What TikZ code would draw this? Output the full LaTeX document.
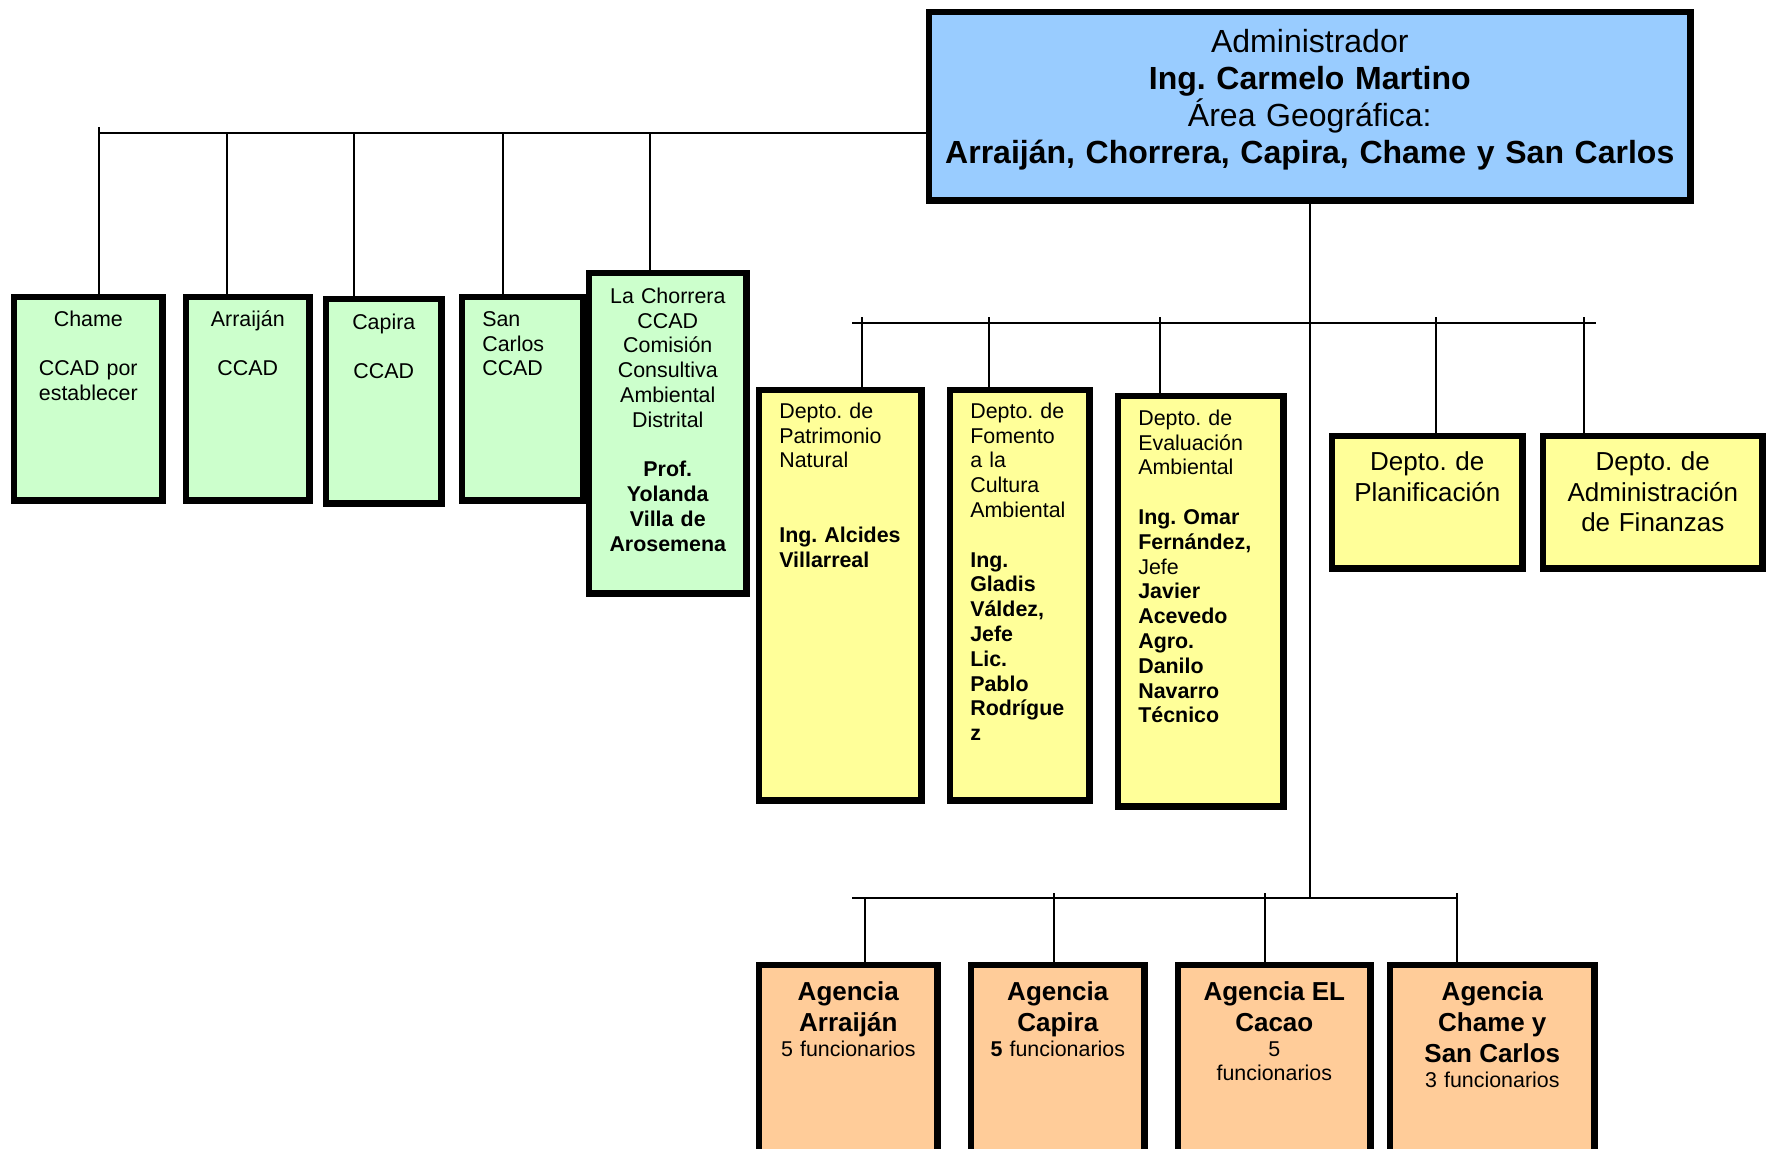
\documentclass[tikz,border=0pt]{standalone}
\usepackage{fontspec}
\setmainfont{Liberation Sans}
\frenchspacing

\definecolor{adminblue}{RGB}{153,204,255}
\definecolor{ccadgreen}{RGB}{204,255,204}
\definecolor{deptyellow}{RGB}{255,255,153}
\definecolor{agencyorange}{RGB}{255,204,153}

\tikzset{
    box/.style={draw, line width=3.1pt, anchor=north west, inner ysep=0pt, inner xsep=2pt, align=center, font=\fontsize{10.7}{12.4}\selectfont},
    adminbox/.style={box, fill=adminblue, font=\fontsize{16}{18.5}\selectfont},
    ccadbox/.style={box, fill=ccadgreen},
    deptbox/.style={box, fill=deptyellow, align=left, inner xsep=10.1pt},
    unitbox/.style={box, fill=deptyellow, font=\fontsize{13}{15.2}\selectfont},
    agencybox/.style={box, fill=agencyorange},
    wire/.style={line width=0.7pt},
}

\begin{document}
\begin{tikzpicture}[x=0.5pt,y=-0.5pt]
    \clip (0,0) rectangle (1767,1148);

    \coordinate (topbus) at (99,133);
    \coordinate (topbusend) at (99,127);
    \coordinate (midW) at (852,323);
    \coordinate (midE) at (1596,323);
    \coordinate (botW) at (852,898);
    \coordinate (botE) at (1457,898);

    % administrador
    \node[adminbox, text width=376.7pt, text height=20.1pt, text depth=74.1pt] (admin) at (926,9)
        {Administrador\\\textbf{Ing. Carmelo Martino}\\Área Geográfica:\\\textbf{Arraiján, Chorrera, Capira, Chame y San Carlos}};

    % CCAD
    \node[ccadbox, text width=70.2pt, text height=14.6pt, text depth=87.1pt] (chame) at (11,294)
        {Chame\\[12.4pt]CCAD por\\establecer};
    \node[ccadbox, text width=57.7pt, text height=14.6pt, text depth=87.1pt] (arraijan) at (183,294)
        {Arraiján\\[12.4pt]CCAD};
    \node[ccadbox, text width=53.7pt, text height=15.1pt, text depth=87.1pt] (capira) at (323,296)
        {Capira\\[12.4pt]CCAD};
    \node[ccadbox, align=left, inner xsep=10.1pt, text width=40.5pt, text height=14.6pt, text depth=87.1pt] (sancarlos) at (459,294)
        {San\\Carlos\\CCAD};
    \node[ccadbox, text width=74.7pt, text height=15.1pt, text depth=145.1pt] (chorrera) at (586,270)
        {La Chorrera\\CCAD\\Comisión\\Consultiva\\Ambiental\\Distrital\\[12.4pt]{\bfseries Prof.\\Yolanda\\Villa de\\Arosemena}};

    \draw[wire] (topbusend) -- (topbusend |- chame.north);
    \draw[wire] (topbus) -- (topbus -| admin.west);
    \foreach \x/\n in {227/arraijan, 354/capira, 503/sancarlos, 650/chorrera} {
        \coordinate (tap-\n) at (\x,133);
        \draw[wire] (tap-\n) -- (tap-\n |- \n.north);
    }

    % departamentos
    \node[deptbox, text width=61pt, text height=14.1pt, text depth=191.1pt] (patrimonio) at (756,387)
        {Depto. de\\Patrimonio\\Natural\\[24.8pt]{\bfseries Ing.~Alcides\\Villarreal}};
    \node[deptbox, text width=49.5pt, text height=14.1pt, text depth=191.1pt] (fomento) at (947,387)
        {Depto. de\\Fomento\\a la\\Cultura\\Ambiental\\[12.4pt]{\bfseries Ing.\\Gladis\\Váldez,\\Jefe\\Lic.\\Pablo\\Rodrígue\\z}};
    \node[deptbox, text width=62.5pt, text height=14.6pt, text depth=190.6pt] (evaluacion) at (1115,393)
        {Depto. de\\Evaluación\\Ambiental\\[12.4pt]{\bfseries Ing.~Omar\\Fernández,}\\Jefe\\{\bfseries Javier\\Acevedo\\Agro.\\Danilo\\Navarro\\Técnico}};
    \node[unitbox, text width=91.2pt, text height=17.35pt, text depth=48.85pt] (planif) at (1329,433)
        {Depto. de\\Planificación};
    \node[unitbox, text width=105.7pt, text height=17.35pt, text depth=48.85pt] (finanzas) at (1540,433)
        {Depto. de\\Administración\\de Finanzas};

    \draw[wire] (midW) -- (midE);
    \foreach \x/\n in {862/patrimonio, 989/fomento, 1160/evaluacion, 1436/planif, 1584/finanzas} {
        \coordinate (tap-\n) at (\x,317);
        \draw[wire] (tap-\n) -- (tap-\n |- \n.north);
    }

    % agencias
    \node[agencybox, text width=85.2pt, text height=17.6pt, text depth=89.6pt] (agarraijan) at (756,962)
        {\bfseries\fontsize{13}{15.5}\selectfont Agencia\\Arraiján\par
         \mdseries\fontsize{10.7}{12.4}\selectfont 5 funcionarios};
    \node[agencybox, text width=82.7pt, text height=17.6pt, text depth=89.6pt] (agcapira) at (968,962)
        {\bfseries\fontsize{13}{15.5}\selectfont Agencia\\Capira\par
         \mdseries\fontsize{10.7}{12.4}\selectfont \textbf{5} funcionarios};
    \node[agencybox, text width=92.2pt, text height=17.6pt, text depth=89.6pt] (agcacao) at (1175,962)
        {\bfseries\fontsize{13}{15.5}\selectfont Agencia EL\\Cacao\par
         \mdseries\fontsize{10.7}{12.4}\selectfont 5\\funcionarios};
    \node[agencybox, text width=98.2pt, text height=17.6pt, text depth=89.6pt] (agchame) at (1387,962)
        {\bfseries\fontsize{13}{15.5}\selectfont Agencia\\Chame y\\San Carlos\par
         \mdseries\fontsize{10.7}{12.4}\selectfont 3 funcionarios};

    \draw[wire] (admin.south) -- (admin.south |- botW);
    \draw[wire] (botW) -- (botE);
    \foreach \x/\y/\n in {865/898/agarraijan, 1054/893/agcapira, 1265/893/agcacao, 1457/893/agchame} {
        \coordinate (tap-\n) at (\x,\y);
        \draw[wire] (tap-\n) -- (tap-\n |- \n.north);
    }

\end{tikzpicture}
\end{document}
